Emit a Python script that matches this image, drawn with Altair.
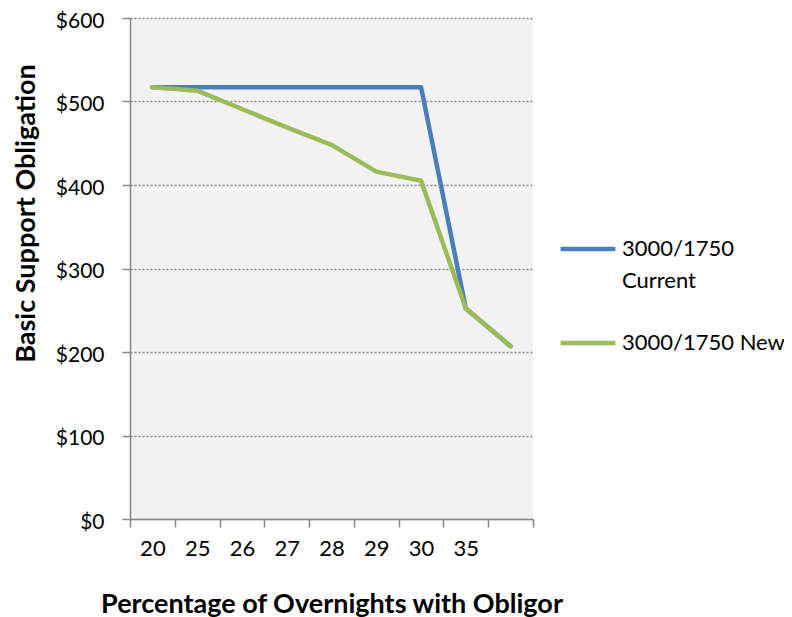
import altair as alt
import pandas as pd

categories = ["20", "25", "26", "27", "28", "29", "30", "35", " "]
current = [517, 517, 517, 517, 517, 517, 517, 252, 207]
new = [517, 513, 491, 469, 448, 416, 405, 252, 207]
series_names = ["3000/1750 Current", "3000/1750 New"]
series_colors = ["#4A7EBB", "#9BBB59"]
y_ticks = [0, 100, 200, 300, 400, 500, 600]

rows = []
for c, v in zip(categories, current):
    rows.append({"cat": c, "value": v, "series": series_names[0]})
for c, v in zip(categories, new):
    rows.append({"cat": c, "value": v, "series": series_names[1]})
df = pd.DataFrame(rows)

FONT = "Lato"
LABEL_SIZE = 22
TITLE_SIZE = 27

chart = alt.Chart(df).mark_line(strokeWidth=4.5, strokeJoin="round", strokeCap="round").encode(
    x=alt.X("cat:N", sort=categories, bandPosition=0.5,
            scale=alt.Scale(type="band", paddingInner=0, paddingOuter=0),
            axis=alt.Axis(title="Percentage of Overnights with Obligor", labelAngle=0,
                          tickBand="extent", tickSize=8, labelPadding=11,
                          domainColor="#868686", tickColor="#868686", domainWidth=1.5, tickWidth=1.5,
                          labelFont=FONT, labelFontSize=LABEL_SIZE, labelColor="#000000",
                          titleFont=FONT, titleFontSize=TITLE_SIZE, titleFontWeight="bold",
                          titleColor="#000000", titleY=93, titleBaseline="alphabetic", grid=False)),
    y=alt.Y("value:Q", scale=alt.Scale(domain=[0, 600], nice=False),
            axis=alt.Axis(title="Basic Support Obligation", values=y_ticks,
                          format="$,.0f", tickSize=8, labelPadding=18, labelOffset=3,
                          domainColor="#868686", tickColor="#868686", domainWidth=1.5, tickWidth=1.5,
                          gridColor="#868686", gridDash=[2, 2], gridWidth=1.5,
                          labelFont=FONT, labelFontSize=21, labelColor="#000000",
                          titleFont=FONT, titleFontSize=TITLE_SIZE, titleFontWeight="bold",
                          titleColor="#000000", titleX=-96, titleY=195,
                          titleBaseline="alphabetic", titleAngle=-90)),
    color=alt.Color("series:N", sort=series_names,
                    scale=alt.Scale(domain=series_names, range=series_colors),
                    legend=alt.Legend(title=None, orient="none", legendX=428, legendY=201,
                                      symbolType="stroke", symbolSize=3000, symbolStrokeWidth=4.5,
                                      labelFont=FONT, labelFontSize=LABEL_SIZE, labelColor="#000000",
                                      labelLimit=300, rowPadding=21, labelOffset=4,
                                      labelExpr="datum.label == '3000/1750 Current' ? ['3000/1750', 'Current'] : datum.label")),
).properties(
    width=403, height=501,
    autosize=alt.AutoSizeParams(type="none"),
    padding={"left": 122, "top": 10, "right": 251, "bottom": 98},
).configure(
    style={"guide-label": {"lineHeight": 32}}
).configure_view(
    fill="#F2F2F2", stroke=None
)

chart.save("out.html", embed_options={"renderer": "svg", "actions": False})
